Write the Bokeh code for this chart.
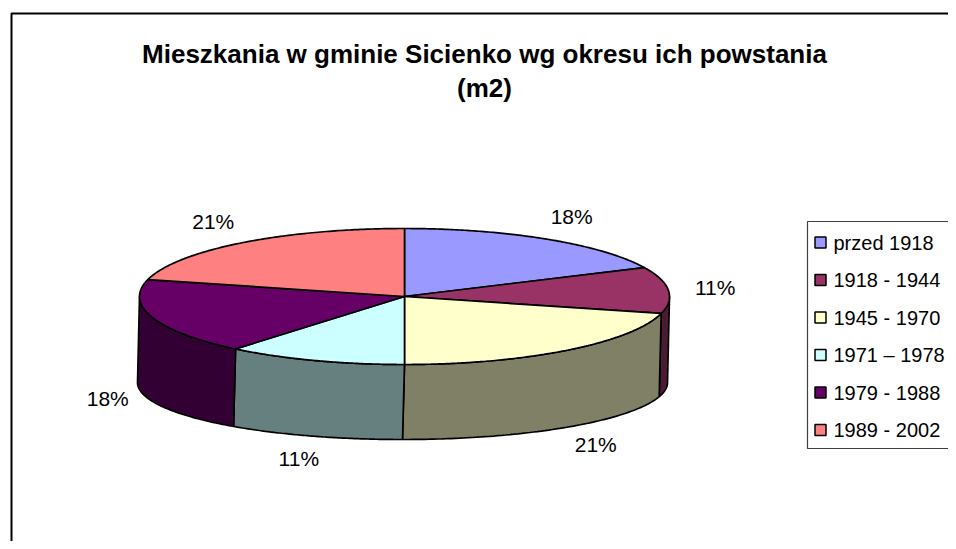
import numpy as np
from bokeh.plotting import figure
from bokeh.models import Range1d
from bokeh.embed import file_html
from bokeh.resources import INLINE
from bokeh.core.properties import value

# ---------------- data ----------------
title_lines = ["Mieszkania w gminie Sicienko wg okresu ich powstania", "(m2)"]
categories = ["przed 1918", "1918 - 1944", "1945 - 1970", "1971 \u2013 1978", "1979 - 1988", "1989 - 2002"]
shares = [18, 11, 21, 11, 18, 21]
top_colors = ["#9999FF", "#993366", "#FFFFCC", "#CCFFFF", "#660066", "#FF8080"]
side_colors = ["#4D4D80", "#4D1A33", "#808066", "#668080", "#330033", "#804040"]

# ---------------- layout ----------------
W, H = 948, 541
X0, Y0 = 0, 0
FONT = "Liberation Sans"

p = figure(width=W, height=H, x_range=Range1d(X0, X0 + W), y_range=Range1d(Y0 + H, Y0),
           output_backend="svg", toolbar_location=None, min_border=0,
           x_axis_type=None, y_axis_type=None)
p.grid.visible = False
p.outline_line_color = None
p.background_fill_color = "white"
p.border_fill_color = "white"

# chart border
p.line(x=[11, 11, 1200, 1200, 11], y=[900, 13, 13, 900, 900], line_color="black", line_width=2)

# pie geometry (3D ellipse)
cx, cy, a, b = 404.0, 296.0, 265.0, 68.0
bcx, bcy, bb = 402.0, 382.0, 57.0
depth = 73.0


def top_pt(th):
    return cx + a * np.cos(th), cy - b * np.sin(th)


def bot_pt(th):
    return bcx + a * np.cos(th), bcy - bb * np.sin(th)


total = float(sum(shares))
fr = np.array(shares) / total
cum = np.concatenate([[0], np.cumsum(fr)])
starts = np.deg2rad(90 - 360 * cum[:-1])
ends = np.deg2rad(90 - 360 * cum[1:])

# side walls (front half only: angles between -180 and 0 deg)
side_xs, side_ys, side_fc = [], [], []
for s, e, col in zip(starts, ends, side_colors):
    lo = max(e, -np.pi)
    hi = min(s, 0.0)
    if hi <= lo:
        continue
    th = np.linspace(hi, lo, 80)
    tx, ty = top_pt(th)
    bx, by = bot_pt(th[::-1])
    side_xs.append(list(tx) + list(bx))
    side_ys.append(list(ty) + list(by))
    side_fc.append(col)
p.patches(xs=side_xs, ys=side_ys, fill_color=side_fc, line_color="black", line_width=1.7)

# top faces
top_xs, top_ys = [], []
for s, e in zip(starts, ends):
    th = np.linspace(s, e, 120)
    tx, ty = top_pt(th)
    top_xs.append([cx] + list(tx))
    top_ys.append([cy] + list(ty))
p.patches(xs=top_xs, ys=top_ys, fill_color=top_colors, line_color="black", line_width=1.7)

# percentage labels
mids = (starts + ends) / 2
Rx, Ry = 312.0, 95.0
lx, ly, lt = [], [], []
for m, f in zip(mids, fr):
    lx.append(cx + Rx * np.cos(m))
    ly.append(cy - Ry * np.sin(m) + (depth if np.sin(m) < 0 else 0.0))
    lt.append(f"{round(f * 100)}%")
p.text(x=lx, y=ly, text=lt, text_font=value(FONT), text_font_size="21px",
       text_align="center", text_baseline="middle", text_color="black")

# title
p.text(x=[484, 484], y=[53, 87], text=title_lines, text_font=value(FONT), text_font_size="26px",
       text_font_style="bold", text_align="center", text_baseline="alphabetic", text_color="black")

# legend
lg_left, lg_top, lg_bottom = 807, 221, 448
p.line(x=[1200, lg_left, lg_left, 1200], y=[lg_top, lg_top, lg_bottom, lg_bottom],
       line_color="#404040", line_width=1.2)
row0, step = 242.0, 37.5
rows = [row0 + step * i for i in range(len(categories))]
p.rect(x=[820] * len(categories), y=rows, width=11, height=11, fill_color=top_colors,
       line_color="black", line_width=1.5)
p.text(x=[833] * len(categories), y=rows, text=categories, text_font=value(FONT),
       text_font_size="20px", text_align="left", text_baseline="middle", text_color="black")

open("out.html", "w").write(file_html(p, INLINE))
